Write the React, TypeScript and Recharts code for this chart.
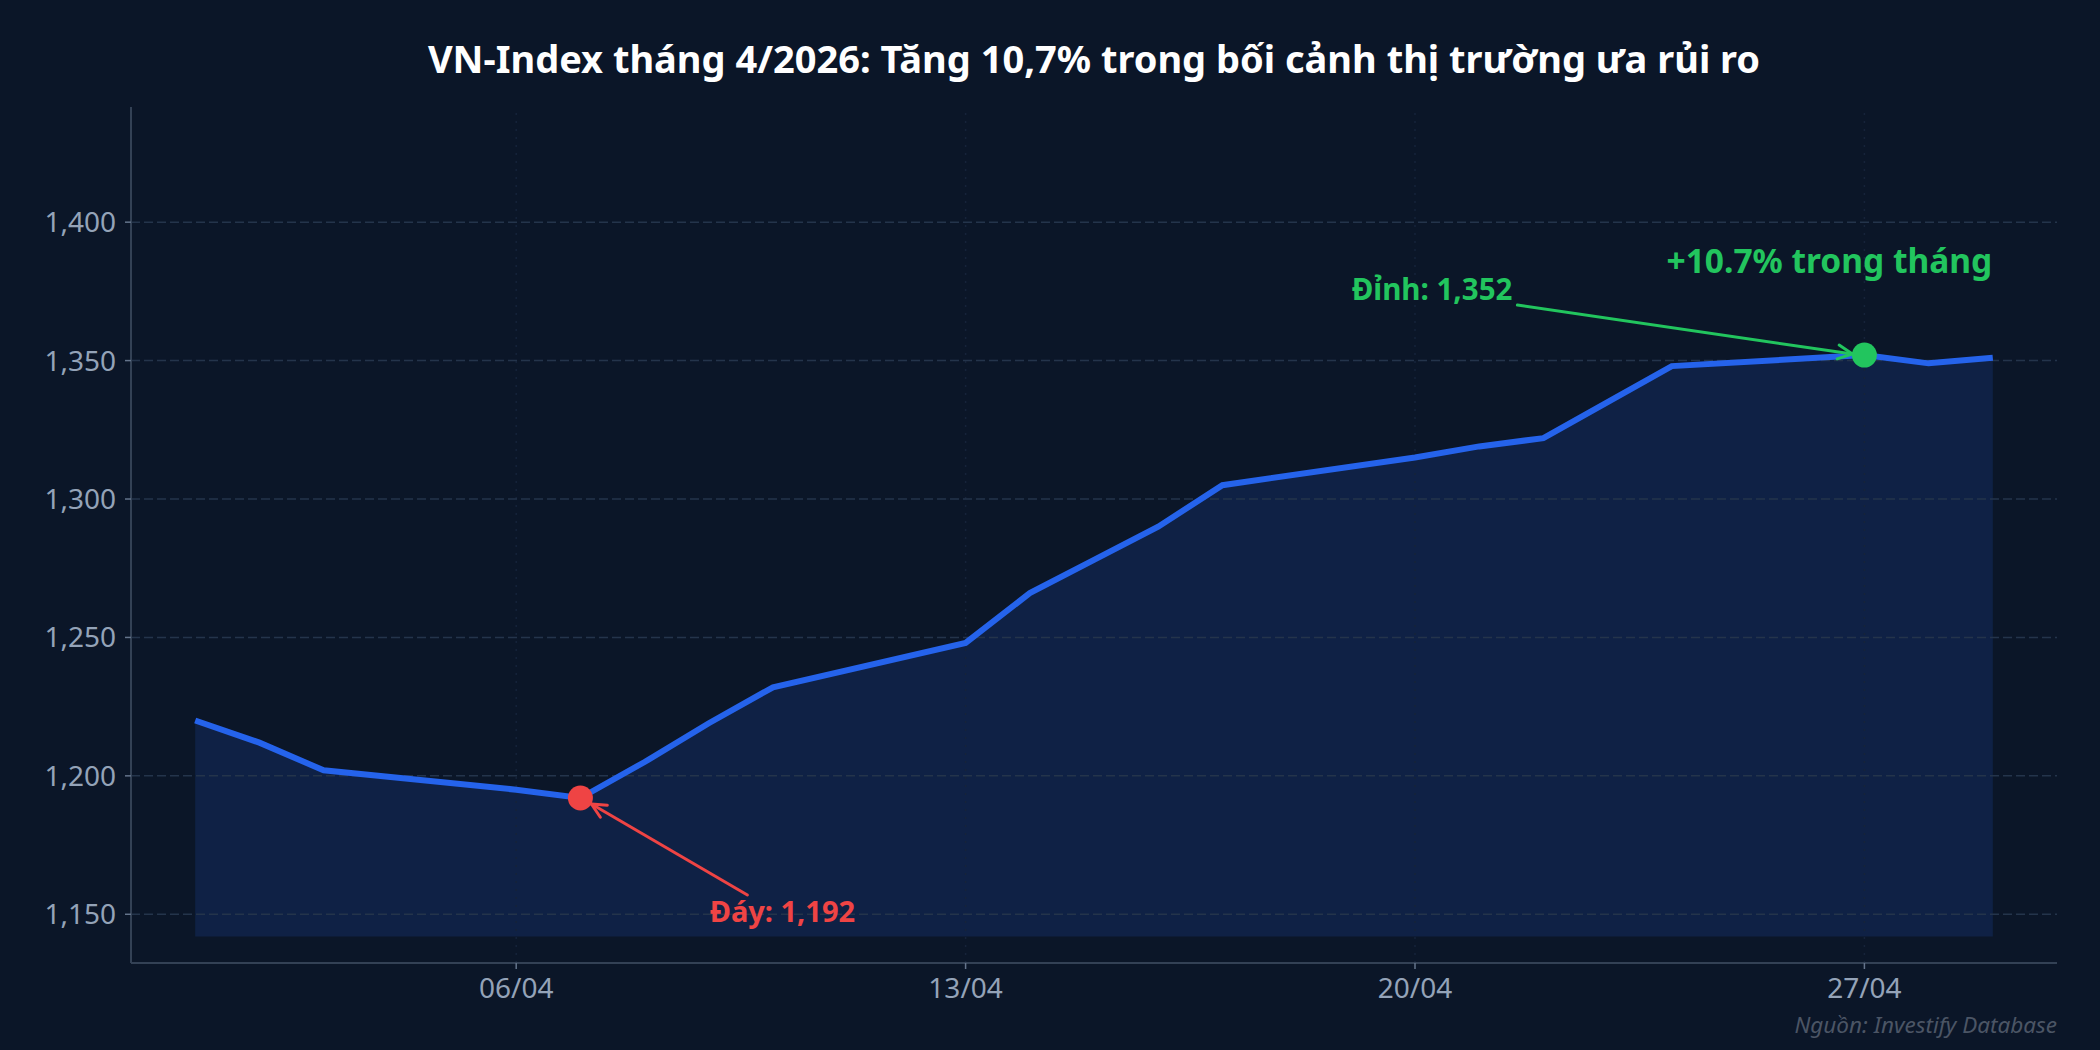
import {
    ComposedChart,
    Area,
    Line,
    XAxis,
    YAxis,
    ReferenceLine,
    ReferenceDot,
} from "recharts";

// Ngày giao dịch tháng 4/2026 (ngày trong tháng) và điểm đóng cửa VN-Index
const days = [1, 2, 3, 6, 7, 8, 9, 10, 13, 14, 15, 16, 17, 20, 21, 22, 23, 24, 27, 28, 29];
const closes = [
    1220, 1212, 1202, 1195, 1192, 1205, 1219, 1232, 1248, 1266, 1278, 1290, 1305,
    1315, 1319, 1322, 1335, 1348, 1352, 1349, 1351,
];
const xTicks = [6, 13, 20, 27];
const yTicks = [1150, 1200, 1250, 1300, 1350, 1400];
const lowPoint = { day: 7, value: 1192 };
const highPoint = { day: 27, value: 1352 };
const fillBase = 1142;

const BG = "#0b1628";
const FONT = "'Noto Sans', 'Open Sans', sans-serif";

const chartData = days.map((d, i) => ({ day: d, close: closes[i] }));

const fmtDay = (d: number) => `${String(d).padStart(2, "0")}/04`;
const fmtNum = (v: number) => v.toLocaleString("en-US");

// mũi tên kiểu "->" của matplotlib
function Arrow({ x1, y1, x2, y2, color }: any) {
    const ang = Math.atan2(y2 - y1, x2 - x1);
    const len = 16;
    const spread = 0.45;
    const ax = x2 - len * Math.cos(ang - spread);
    const ay = y2 - len * Math.sin(ang - spread);
    const bx = x2 - len * Math.cos(ang + spread);
    const by = y2 - len * Math.sin(ang + spread);
    return (
        <g stroke={color} strokeWidth={3} fill="none" strokeLinecap="round">
            <line x1={x1} y1={y1} x2={x2} y2={y2} />
            <polyline points={`${ax},${ay} ${x2},${y2} ${bx},${by}`} />
        </g>
    );
}

function LowMarker(props: any) {
    const { cx, cy } = props;
    if (cx == null || cy == null) return null;
    const color = "#ef4444";
    return (
        <g>
            <Arrow x1={cx + 167} y1={cy + 97} x2={cx + 11} y2={cy + 6} color={color} />
            <circle cx={cx} cy={cy} r={12.5} fill={color} />
            <text
                x={cx + 202}
                y={cy + 124}
                textAnchor="middle"
                fill={color}
                fontSize={29}
                fontWeight={700}
                fontFamily={FONT}
            >
                {`Đáy: ${fmtNum(lowPoint.value)}`}
            </text>
        </g>
    );
}

function HighMarker(props: any) {
    const { cx, cy } = props;
    if (cx == null || cy == null) return null;
    const color = "#22c55e";
    return (
        <g>
            <Arrow x1={cx - 347} y1={cy - 50} x2={cx - 12} y2={cy - 1} color={color} />
            <circle cx={cx} cy={cy} r={12.5} fill={color} />
            <text
                x={cx - 352}
                y={cy - 55}
                textAnchor="end"
                fill={color}
                fontSize={29.5}
                fontWeight={700}
                fontFamily={FONT}
            >
                {`Đỉnh: ${fmtNum(highPoint.value)}`}
            </text>
            <text
                x={cx - 35}
                y={cy - 82}
                textAnchor="middle"
                fill={color}
                fontSize={33.5}
                fontWeight={700}
                fontFamily={FONT}
            >
                +10.7% trong tháng
            </text>
        </g>
    );
}

export default function App() {
    return (
        <div
            style={{
                position: "absolute",
                left: 0,
                top: 0,
                width: 2100,
                height: 1050,
                background: BG,
                fontFamily: FONT,
            }}
        >
            <div
                style={{
                    position: "absolute",
                    left: 131,
                    width: 1926,
                    top: 35,
                    textAlign: "center",
                    color: "#ffffff",
                    fontSize: 38,
                    fontWeight: 700,
                    lineHeight: "46px",
                }}
            >
                VN-Index tháng 4/2026: Tăng 10,7% trong bối cảnh thị trường ưa rủi ro
            </div>

            <ComposedChart
                width={2100}
                height={1050}
                data={chartData}
                margin={{ top: 107, right: 43, bottom: 27, left: 0 }}
            >
                <XAxis
                    dataKey="day"
                    type="number"
                    domain={[0, 30]}
                    ticks={xTicks}
                    tickFormatter={fmtDay}
                    height={60}
                    tickSize={6}
                    tickMargin={9}
                    stroke="#334155"
                    strokeWidth={2}
                    tick={{ fill: "#94a3b8", fontSize: 28, fontFamily: FONT }}
                    tickLine={{ stroke: "#64748b", strokeWidth: 1.5 }}
                />
                <YAxis
                    type="number"
                    domain={[1132.4, 1441.6]}
                    ticks={yTicks}
                    tickFormatter={fmtNum}
                    width={131}
                    tickSize={6}
                    tickMargin={9}
                    stroke="#334155"
                    strokeWidth={2}
                    allowDataOverflow
                    tick={{ fill: "#94a3b8", fontSize: 28, fontFamily: FONT }}
                    tickLine={{ stroke: "#64748b", strokeWidth: 1.5 }}
                />
                {xTicks.map((t) => (
                    <ReferenceLine
                        key={`vx-${t}`}
                        x={t}
                        stroke="#16233a"
                        strokeDasharray="2 6"
                        strokeWidth={1.5}
                    />
                ))}
                {yTicks.map((t) => (
                    <ReferenceLine
                        key={`hy-${t}`}
                        y={t}
                        stroke="#24344b"
                        strokeDasharray="9 4"
                        strokeWidth={1.5}
                    />
                ))}
                <Area
                    dataKey="close"
                    type="linear"
                    baseValue={fillBase}
                    stroke="none"
                    fill="#2563eb"
                    fillOpacity={0.15}
                    isAnimationActive={false}
                />
                <Line
                    dataKey="close"
                    type="linear"
                    stroke="#2563eb"
                    strokeWidth={6}
                    dot={false}
                    activeDot={false}
                    isAnimationActive={false}
                />
                <ReferenceDot x={lowPoint.day} y={lowPoint.value} shape={LowMarker} />
                <ReferenceDot x={highPoint.day} y={highPoint.value} shape={HighMarker} />
            </ComposedChart>

            <div
                style={{
                    position: "absolute",
                    right: 43,
                    top: 1010,
                    color: "#4b5565",
                    fontSize: 22.5,
                    fontStyle: "italic",
                    lineHeight: "30px",
                }}
            >
                Nguồn: Investify Database
            </div>
        </div>
    );
}
